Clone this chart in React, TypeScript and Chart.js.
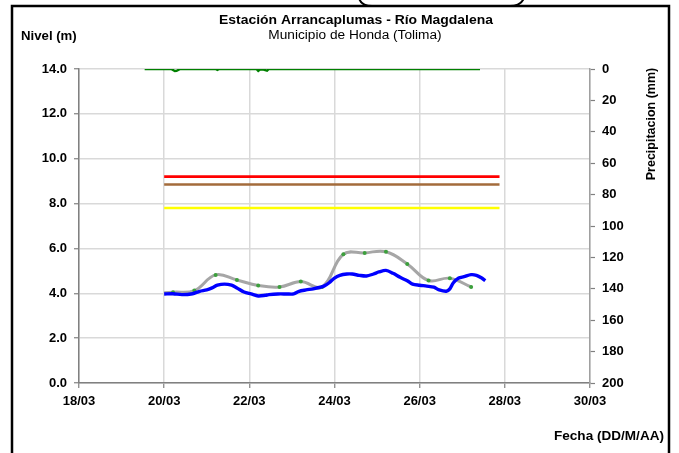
import React, { useEffect, useRef } from 'react';
import { Chart, registerables } from 'chart.js';

Chart.register(...registerables);

// X axis: hours since 18/03 00:00
const xTickLabels = ['18/03', '20/03', '22/03', '24/03', '26/03', '28/03', '30/03'];
const levelTickLabels = ['0.0', '2.0', '4.0', '6.0', '8.0', '10.0', '12.0', '14.0'];

// Observed level (m)
const levelHours = [48, 53, 58, 64, 68, 72, 75, 78, 82, 86, 89, 93, 97, 101, 105, 107, 112, 117, 121, 124, 128, 132, 136, 138, 141, 144, 147, 151, 154, 158, 162, 166, 169, 173, 177, 181, 185, 188, 192, 196, 200, 203, 207, 209, 211, 214, 217, 221, 224, 227, 229];
const levelValues = [3.97, 3.98, 3.94, 3.98, 4.09, 4.15, 4.24, 4.36, 4.41, 4.36, 4.24, 4.06, 3.97, 3.88, 3.91, 3.94, 3.97, 3.97, 3.97, 4.09, 4.15, 4.2, 4.27, 4.32, 4.47, 4.68, 4.8, 4.86, 4.86, 4.8, 4.77, 4.86, 4.95, 5.02, 4.89, 4.71, 4.56, 4.41, 4.36, 4.32, 4.27, 4.15, 4.09, 4.2, 4.47, 4.68, 4.74, 4.83, 4.8, 4.68, 4.56];

// Forecast level (m)
const forecastHours = [48, 53, 65, 77, 89, 101, 113, 125, 137, 149, 161, 173, 185, 197, 209, 221];
const forecastValues = [4.02, 4.05, 4.12, 4.82, 4.59, 4.35, 4.28, 4.52, 4.28, 5.74, 5.8, 5.85, 5.31, 4.57, 4.67, 4.28];

// Alert thresholds (m)
const thresholdHours = [48, 237];
const redLevel = 9.2;
const brownLevel = 8.85;
const yellowLevel = 7.8;

// Precipitation (mm)
const precipHours = [37, 52, 54, 55, 57, 77, 78, 79, 100, 101, 102, 104, 106, 107, 226];
const precipValues = [0, 0, 1.3, 1.2, 0, 0, 0.6, 0, 0, 1.2, 0.3, 0.4, 1.1, 0, 0];

const FONT = "'Liberation Sans', Arial, sans-serif";

function txt(ctx: CanvasRenderingContext2D, s: string, x: number, y: number, font: string, align: CanvasTextAlign, sx: number) {
  ctx.save();
  ctx.translate(x, y);
  ctx.scale(sx, 1);
  ctx.font = font;
  ctx.textAlign = align;
  ctx.textBaseline = 'middle';
  ctx.fillStyle = '#000';
  ctx.fillText(s, 0, 0);
  ctx.restore();
}

const decorPlugin = {
  id: 'decor',
  beforeDraw(chart: any) {
    const ctx = chart.ctx;
    ctx.save();
    ctx.fillStyle = '#fff';
    ctx.fillRect(0, 0, chart.width, chart.height);
    ctx.restore();
  },
  afterDraw(chart: any) {
    const ctx: CanvasRenderingContext2D = chart.ctx;
    ctx.save();
    ctx.strokeStyle = '#000';
    ctx.lineWidth = 2.5;
    ctx.beginPath();
    ctx.moveTo(12, 470);
    ctx.lineTo(12, 6);
    ctx.lineTo(669, 6);
    ctx.lineTo(669, 470);
    ctx.stroke();
    ctx.lineWidth = 2;
    ctx.beginPath();
    ctx.moveTo(359, -2);
    ctx.quadraticCurveTo(361, 6, 372, 6);
    ctx.stroke();
    ctx.beginPath();
    ctx.moveTo(510, 6);
    ctx.quadraticCurveTo(521, 6, 524, -2);
    ctx.stroke();
    ctx.restore();

    txt(ctx, 'Estación Arrancaplumas - Río Magdalena', 356, 21, `bold 12px ${FONT}`, 'center', 1.16);
    txt(ctx, 'Municipio de Honda (Tolima)', 355, 36, `12px ${FONT}`, 'center', 1.14);
    txt(ctx, 'Nivel (m)', 21, 37, `bold 12px ${FONT}`, 'left', 1.1);
    txt(ctx, 'Fecha (DD/M/AA)', 554, 437, `bold 12px ${FONT}`, 'left', 1.13);

    ctx.save();
    ctx.translate(652, 124);
    ctx.rotate(-Math.PI / 2);
    ctx.font = `bold 12.5px ${FONT}`;
    ctx.textAlign = 'center';
    ctx.textBaseline = 'middle';
    ctx.fillStyle = '#000';
    ctx.fillText('Precipitacion (mm)', 0, 0);
    ctx.restore();
  },
};

export default function App() {
  const canvasRef = useRef<HTMLCanvasElement | null>(null);

  useEffect(() => {
    if (!canvasRef.current) return;
    const pts = (xs: number[], ys: number[]) => xs.map((x, i) => ({ x, y: ys[i] }));
    const flat = (v: number) => thresholdHours.map((x) => ({ x, y: v }));
    const tickFont = { family: FONT, size: 13, weight: 'bold' as const };

    const chart = new Chart(canvasRef.current, {
      type: 'line',
      data: {
        datasets: [
          {
            label: 'Nivel',
            data: pts(levelHours, levelValues),
            borderColor: '#0000FF',
            borderWidth: 3.4,
            pointRadius: 0,
            tension: 0.3,
            yAxisID: 'y',
            order: 0,
          },
          {
            label: 'Pronóstico',
            data: pts(forecastHours, forecastValues),
            borderColor: '#A6A6A6',
            borderWidth: 3,
            pointRadius: forecastHours.map((_, i) => (i === 0 ? 0 : 2)),
            pointBackgroundColor: '#3CA03C',
            pointBorderWidth: 0,
            tension: 0.4,
            yAxisID: 'y',
            order: 1,
          },
          {
            label: 'Rojo',
            data: flat(redLevel),
            borderColor: '#FF0000',
            borderWidth: 2.6,
            pointRadius: 0,
            yAxisID: 'y',
            order: 2,
          },
          {
            label: 'Naranja',
            data: flat(brownLevel),
            borderColor: '#A36B3B',
            borderWidth: 2.6,
            pointRadius: 0,
            yAxisID: 'y',
            order: 2,
          },
          {
            label: 'Amarillo',
            data: flat(yellowLevel),
            borderColor: '#FFFF00',
            borderWidth: 2.6,
            pointRadius: 0,
            yAxisID: 'y',
            order: 2,
          },
          {
            label: 'Precipitación',
            data: pts(precipHours, precipValues),
            borderColor: '#008000',
            borderWidth: 2.4,
            pointRadius: 0,
            yAxisID: 'y2',
            order: 3,
          },
        ],
      },
      options: {
        animation: false,
        responsive: false,
        maintainAspectRatio: false,
        layout: { padding: { top: 69, left: 0, right: 0, bottom: 0 } },
        plugins: { legend: { display: false }, tooltip: { enabled: false }, title: { display: false } },
        scales: {
          x: {
            type: 'linear',
            min: 0,
            max: 288,
            afterFit: (s: any) => { s.height = 70; },
            ticks: {
              stepSize: 48,
              autoSkip: false,
              maxRotation: 0,
              padding: 6,
              color: '#000',
              font: tickFont,
              callback: (v: any) => xTickLabels[Math.round(Number(v) / 48)] ?? '',
            },
            grid: { color: '#D9D9D9', lineWidth: 1.5, tickLength: 5, tickColor: '#808080', tickWidth: 1.2 },
            border: { color: '#808080', width: 1.5 },
          },
          y: {
            type: 'linear',
            position: 'left',
            min: 0,
            max: 14,
            afterFit: (s: any) => { s.width = 79; },
            ticks: {
              stepSize: 2,
              padding: 7,
              color: '#000',
              font: tickFont,
              callback: (v: any) => levelTickLabels[Math.round(Number(v) / 2)] ?? '',
            },
            grid: { color: '#D9D9D9', lineWidth: 1.5, tickLength: 5, tickColor: '#808080', tickWidth: 1.2 },
            border: { color: '#808080', width: 1.5 },
          },
          y2: {
            type: 'linear',
            position: 'right',
            min: 0,
            max: 200,
            reverse: true,
            afterFit: (s: any) => { s.width = 89; },
            ticks: { stepSize: 20, padding: 7, color: '#000', font: tickFont },
            grid: { drawOnChartArea: false, tickLength: 5, tickColor: '#808080', tickWidth: 1.2 },
            border: { color: '#A0A0A0', width: 1.5 },
          },
        },
      },
      plugins: [decorPlugin],
    });
    return () => chart.destroy();
  }, []);

  return (
    <div style={{ position: 'fixed', left: 0, top: 0, width: 679, height: 453, background: '#fff' }}>
      <canvas ref={canvasRef} width={679} height={453} style={{ display: 'block' }} />
    </div>
  );
}
